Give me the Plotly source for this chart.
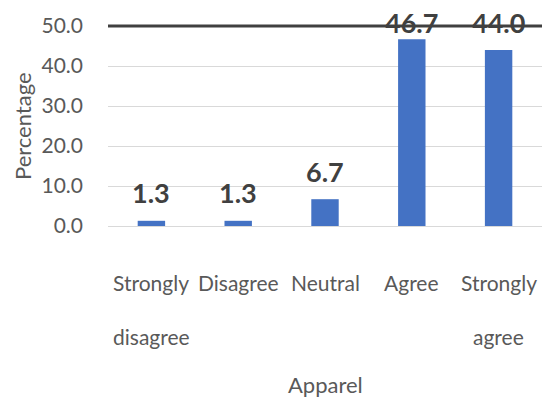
import plotly.graph_objects as go

# Survey responses for the apparel item
categories = ["Strongly disagree", "Disagree", "Neutral", "Agree", "Strongly agree"]
percentages = [1.3, 1.3, 6.7, 46.7, 44.0]
tick_line1 = ["Strongly", "Disagree", "Neutral", "Agree", "Strongly"]
tick_line2 = ["disagree", "", "", "", "agree"]
y_ticks = [0, 10, 20, 30, 40, 50]

Y_MAX = 50
FONT = "Lato, Carlito, Calibri, sans-serif"
TEXT = "#595959"
LABEL = "#404040"

MARGIN_T, MARGIN_B, HEIGHT = 26, 171, 397
PX_PER_UNIT = (HEIGHT - MARGIN_T - MARGIN_B) / Y_MAX

fig = go.Figure(
    go.Bar(
        x=categories,
        y=percentages,
        marker=dict(color="#4472C4", line=dict(width=0)),
        hoverinfo="x+y",
    )
)

annotations = []

# data labels above each bar; near the top they are held just above the frame line
for cat, val in zip(categories, percentages):
    shift = min(28, (Y_MAX + 1 - val) * PX_PER_UNIT)
    annotations.append(dict(
        x=cat, y=val, xref="x", yref="y", yshift=shift,
        text=f"<b>{val:.1f}</b>", showarrow=False,
        yanchor="middle", xanchor="center",
        font=dict(family=FONT, size=27, color=LABEL),
    ))

# two-line category labels with wide line spacing
for cat, l1, l2 in zip(categories, tick_line1, tick_line2):
    for text, s in ((l1, -56), (l2, -110)):
        if text:
            annotations.append(dict(
                x=cat, y=0, xref="x", yref="paper",
                text=text, showarrow=False,
                yanchor="middle", xanchor="center", yshift=s,
                font=dict(family=FONT, size=21, color=TEXT),
            ))

# axis titles
annotations.append(dict(
    x=0.5, y=0, xref="paper", yref="paper", text="Apparel", showarrow=False,
    yanchor="middle", xanchor="center", yshift=-158,
    font=dict(family=FONT, size=22, color=TEXT),
))
annotations.append(dict(
    x=0, y=0.5, xref="paper", yref="paper", text="Percentage", showarrow=False,
    textangle=-90, yanchor="middle", xanchor="center", xshift=-86,
    font=dict(family=FONT, size=22, color=TEXT),
))

fig.update_layout(
    width=542, height=HEIGHT,
    margin=dict(l=108, r=0, t=MARGIN_T, b=MARGIN_B),
    paper_bgcolor="white", plot_bgcolor="white",
    bargap=0.684,
    showlegend=False,
    annotations=annotations,
    # dark frame line along the top of the value axis
    shapes=[dict(
        type="line", xref="paper", yref="paper", x0=0, x1=1, y0=1, y1=1,
        line=dict(color="#404040", width=3), layer="below",
    )],
    xaxis=dict(showticklabels=False, showgrid=False, zeroline=False, showline=False, ticks=""),
    yaxis=dict(
        range=[0, Y_MAX], tickvals=y_ticks, ticktext=[f"{v:.1f}" for v in y_ticks],
        showgrid=True, gridcolor="#d9d9d9", gridwidth=1,
        zeroline=True, zerolinecolor="#d9d9d9", zerolinewidth=1,
        showline=False, ticks="", ticklabelstandoff=24,
        tickfont=dict(family=FONT, size=21, color=TEXT),
    ),
)

fig.write_html("out.html")
